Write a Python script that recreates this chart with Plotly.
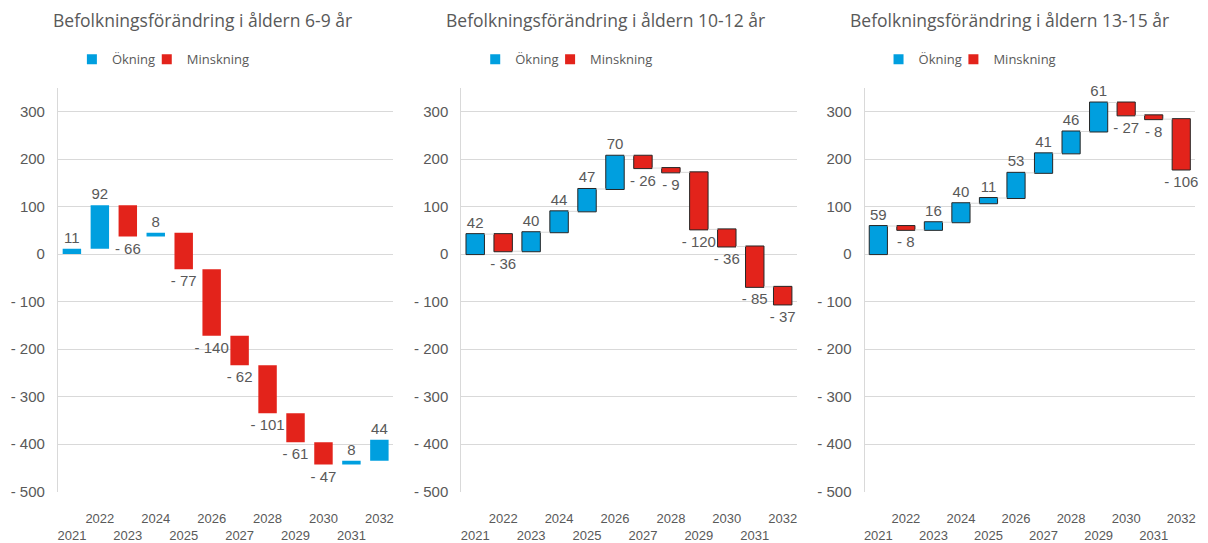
import plotly.graph_objects as go

years = [str(y) for y in range(2021, 2033)]
tick_text = [y if int(y) % 2 == 0 else "\u00a0<br>" + y for y in years]

titles = [
    "Befolkningsförändring i åldern 6-9 år",
    "Befolkningsförändring i åldern 10-12 år",
    "Befolkningsförändring i åldern 13-15 år",
]
change_6_9 = [11, 92, -66, 8, -77, -140, -62, -101, -61, -47, 8, 44]
change_10_12 = [42, -36, 40, 44, 47, 70, -26, -9, -120, -36, -85, -37]
change_13_15 = [59, -8, 16, 40, 11, 53, 41, 46, 61, -27, -8, -106]
series = [change_6_9, change_10_12, change_13_15]
legend_names = ["Ökning", "Minskning"]

y_tick_vals = [-500, -400, -300, -200, -100, 0, 100, 200, 300]
y_tick_text = ["- 500", "- 400", "- 300", "- 200", "- 100", "0", "100", "200", "300"]

BLUE = "#009FDF"
RED = "#E3231B"
GREY = "#595959"
GRID = "#D9D9D9"
OFF = 8  # page body margin
W, H = 1208 - 2 * OFF, 543 - OFF


def px(x):
    return (x - OFF) / W


def py(y):
    return 1 - (y - OFF) / H


def fmt(v):
    return f"- {abs(v)}" if v < 0 else str(v)


fig = go.Figure()
x_domains = [(57, 393), (461, 797), (865, 1196)]
y_domain = [py(499), py(89)]
legend_offsets = [71, 146]  # left edge of each legend item, relative to chart

leg_count = 0
for i, vals in enumerate(series):
    sfx = "" if i == 0 else str(i + 1)
    outlined = i > 0
    line = dict(color="#262626", width=1) if outlined else dict(width=0)
    fig.add_trace(go.Waterfall(
        x=years, y=vals, measure=["relative"] * len(vals),
        text=[fmt(v) for v in vals], textposition="outside",
        constraintext="none", cliponaxis=False,
        textfont=dict(family="Liberation Sans, Arial", size=15, color=GREY),
        increasing=dict(marker=dict(color=BLUE, line=line)),
        decreasing=dict(marker=dict(color=RED, line=line)),
        connector=dict(visible=outlined, mode="between",
                       line=dict(color=GRID, width=1)),
        showlegend=False, xaxis="x" + sfx, yaxis="y" + sfx,
        hoverinfo="x+y",
    ))
    x0, x1 = x_domains[i]
    for j, (name, col) in enumerate(zip(legend_names, (BLUE, RED))):
        leg_count += 1
        leg = "legend" if leg_count == 1 else "legend" + str(leg_count)
        fig.add_trace(go.Scatter(
            x=[None], y=[None], mode="markers", name=name,
            marker=dict(symbol="square", size=10, color=col),
            xaxis="x" + sfx, yaxis="y" + sfx, legend=leg,
        ))
        fig.update_layout({leg: dict(
            orientation="h", x=px(404 * i + legend_offsets[j]), xanchor="left",
            y=py(60), yanchor="middle",
            font=dict(family="Open Sans", size=13, color=GREY),
            bgcolor="rgba(0,0,0,0)",
        )})
    fig.update_layout({
        "xaxis" + sfx: dict(
            domain=[px(x0), px(x1)], anchor="y" + sfx, type="category",
            range=[-0.5, 11.5], tickvals=years, ticktext=tick_text,
            tickangle=0, showgrid=False, showline=False, zeroline=False,
            ticks="", ticklabelstandoff=17,
            tickfont=dict(family="Liberation Sans, Arial", size=13, color=GREY),
        ),
        "yaxis" + sfx: dict(
            domain=y_domain, anchor="x" + sfx, range=[-500, 350],
            tickvals=y_tick_vals, ticktext=y_tick_text,
            showgrid=True, gridcolor=GRID, gridwidth=1,
            showline=True, linecolor=GRID, linewidth=1, zeroline=False,
            ticks="", ticklabelstandoff=9,
            tickfont=dict(family="Liberation Sans, Arial", size=15, color=GREY),
        ),
    })
    fig.add_annotation(
        text=titles[i], xref="paper", yref="paper",
        x=px(404 * i + 202), y=py(20), xanchor="center", yanchor="middle",
        showarrow=False, font=dict(family="Open Sans", size=17.5, color=GREY),
    )

fig.update_layout(
    width=W, height=H, margin=dict(l=0, r=0, t=0, b=0),
    paper_bgcolor="white", plot_bgcolor="white",
    waterfallgap=0.34,
)

fig.write_html("out.html")
